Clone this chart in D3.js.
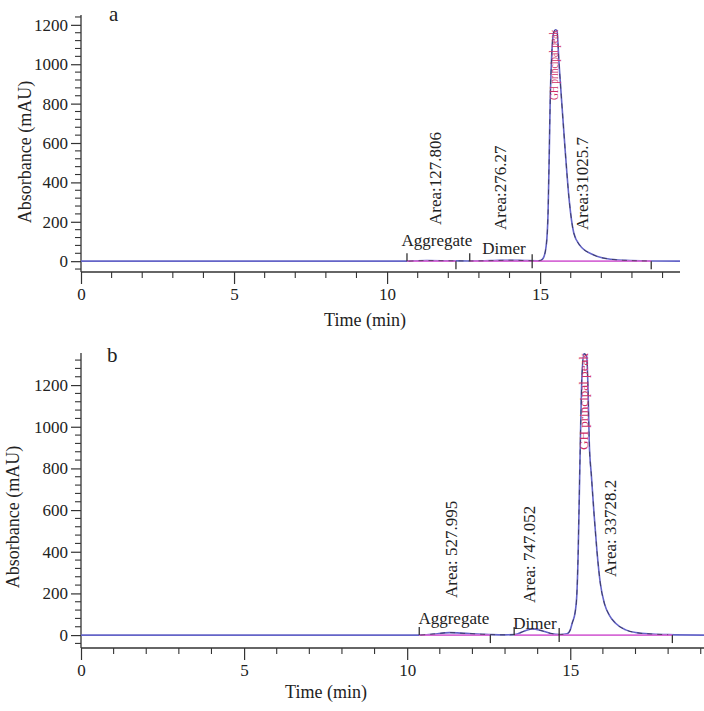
<!DOCTYPE html>
<html>
<head>
<meta charset="utf-8">
<script src="https://cdn.jsdelivr.net/npm/d3@7/dist/d3.min.js"></script>
<style>
  html, body { margin: 0; padding: 0; background: #fff; }
  svg { display: block; }
  text { font-family: "Liberation Serif", "Times New Roman", serif; fill: #222; }
</style>
</head>
<body>
<svg id="chart" width="704" height="711"></svg>
<script>
// ---------- Data ----------
// Panel a chromatogram: time (min) and absorbance (mAU)
const timeA = [0, 5, 10, 10.7, 11.3, 12.0, 12.7, 13.5, 14.0, 14.5, 14.9, 15.0, 15.1, 15.2, 15.26, 15.3, 15.33, 15.38, 15.44, 15.5, 15.55, 15.62, 15.7, 15.82, 15.95, 16.1, 16.3, 16.7, 17.2, 17.8, 18.5, 19.57];
const absA  = [0, 0, 0, 0,    3,    2,    1,    3,    5,    3,    2,    3,    15,   80,   250,   560,  820,   1050,  1160,  1175, 1170,  1000,  820,  560,   310,   143,  80,   35,   12,   4,    1,    0];
// Panel b chromatogram
const timeB = [0, 5, 10, 10.4, 10.8, 11.3, 11.8, 12.3, 12.6, 13.0, 13.3, 13.6, 13.85, 14.1, 14.4, 14.7, 14.9, 15.0, 15.06, 15.15, 15.2, 15.24, 15.27, 15.31, 15.36, 15.42, 15.5, 15.55, 15.58, 15.65, 15.73, 15.82, 15.92, 16.05, 16.2, 16.38, 16.7, 17.0, 17.5, 18.0, 19.1];
const absB  = [0, 0, 0, 0,    5,    12,   8,    4,    2,    1,    2,    20,   30,    22,   8,    3,    6,    25,   58,    110,   190,  380,   614,   935,   1250,  1350,  1340, 1150,  935,   760,   580,   400,   250,   150,   95,   58,    25,   12,   5,    2,    0];

// Integration segments [start, end] (min)
const segmentsA = [[10.65, 12.25], [12.7, 14.74], [14.74, 18.63]];
const segmentsB = [[10.37, 12.55], [13.28, 14.66], [14.66, 18.13]];
// Segment boundary marks: time and placement
const marksA = [[10.65, "up"], [12.25, "down"], [12.7, "up"], [14.74, "cross"], [18.63, "down"]];
const marksB = [[10.37, "up"], [12.55, "down"], [13.28, "up"], [14.66, "cross"], [18.13, "down"]];

// Peak labels: text, time, absorbance of anchor
const peakNamesA = [["Aggregate", 11.63, 77], ["Dimer", 13.82, 37]];
const peakNamesB = [["Aggregate", 11.43, 53], ["Dimer", 13.92, 29]];
const areaLabelsA = [["Area:127.806", 11.57, 184], ["Area:276.27", 13.69, 158], ["Area:31025.7", 16.37, 158]];
const areaLabelsB = [["Area: 527.995", 11.37, 178], ["Area: 747.052", 13.76, 154], ["Area: 33728.2", 16.22, 279]];
const mainPeakA = ["GH principal peak", 15.46, 819];
const mainPeakB = ["GH principal peak", 15.42, 888];

// Axis ticks
const yMajorTicks = [0, 200, 400, 600, 800, 1000, 1200];
const xMajorTicks = [0, 5, 10, 15];

// ---------- Drawing ----------
const svg = d3.select("#chart");
const SERIF = "'Liberation Serif', 'Times New Roman', serif";

function panel(cfg) {
  const x = d3.scaleLinear().domain(cfg.xDomain).range(cfg.xRange);
  const y = d3.scaleLinear().domain(cfg.yDomain).range(cfg.yRange);
  const g = svg.append("g").attr("font-family", SERIF);
  const y0 = cfg.yRange[0];
  const x0 = cfg.xRange[0];

  const yMinor = d3.range(-40, cfg.yDomain[1] + 1, 40).filter(v => !yMajorTicks.includes(v));
  const xMinor = d3.range(0, Math.floor(cfg.xDomain[1]) + 1, 1).filter(v => !xMajorTicks.includes(v));

  // Y axis
  const yAxis = d3.axisLeft(y).tickValues(yMajorTicks).tickSize(10).tickPadding(3).tickFormat(d3.format("d"));
  const ya = g.append("g").attr("transform", `translate(${x0},0)`).call(yAxis)
    .attr("font-family", SERIF).attr("font-size", 17);
  ya.select(".domain").remove();
  ya.append("line").attr("x1", 0).attr("x2", 0).attr("y1", cfg.yRange[1]).attr("y2", y0).attr("stroke", "#333").attr("stroke-width", 1.3);
  ya.selectAll(".tick line").attr("stroke", "#333").attr("stroke-width", 1.2);
  ya.selectAll(".tick text").attr("fill", "#222").style("font-family", SERIF);
  ya.selectAll(".minor").data(yMinor).enter().append("line")
    .attr("x1", -6).attr("x2", 0).attr("y1", d => y(d)).attr("y2", d => y(d))
    .attr("stroke", "#333").attr("stroke-width", 1.1);

  // X axis
  const xAxis = d3.axisBottom(x).tickValues(xMajorTicks).tickSize(12).tickPadding(4).tickFormat(d3.format("d"));
  const xa = g.append("g").attr("transform", `translate(0,${y0})`).call(xAxis)
    .attr("font-family", SERIF).attr("font-size", 17);
  xa.select(".domain").remove();
  xa.append("line").attr("x1", x0).attr("x2", cfg.xRange[1]).attr("y1", 0).attr("y2", 0).attr("stroke", "#333").attr("stroke-width", 1.3);
  xa.selectAll(".tick line").attr("stroke", "#333").attr("stroke-width", 1.2);
  xa.selectAll(".tick text").attr("fill", "#222").style("font-family", SERIF);
  xa.selectAll(".minor").data(xMinor).enter().append("line")
    .attr("x1", d => x(d)).attr("x2", d => x(d)).attr("y1", 0).attr("y2", 6)
    .attr("stroke", "#333").attr("stroke-width", 1.1);

  // chromatogram
  const pts = cfg.time.map((t, i) => [t, cfg.abs[i]]);
  const line = d3.line().x(d => x(d[0])).y(d => y(d[1])).curve(d3.curveMonotoneX);
  g.append("path").datum(pts).attr("d", line)
    .attr("fill", "none").attr("stroke", "#6464c8").attr("stroke-width", 1.6);

  // integration baselines (magenta)
  g.selectAll(".seg").data(cfg.segments).enter().append("line")
    .attr("x1", d => x(d[0])).attr("x2", d => x(d[1]))
    .attr("y1", y(0)).attr("y2", y(0))
    .attr("stroke", "#d66ad6").attr("stroke-width", 1.8);

  // dark dashed overlay over integrated region
  const ov = pts.filter(d => d[0] >= cfg.segments[0][0] && d[0] <= cfg.segments[2][1]);
  g.append("path").datum(ov).attr("d", line)
    .attr("fill", "none").attr("stroke", "#222").attr("stroke-opacity", 0.6)
    .attr("stroke-width", 1).attr("stroke-dasharray", "5,5");

  // segment boundary marks
  g.selectAll(".mark").data(cfg.marks).enter().append("line")
    .attr("x1", d => x(d[0])).attr("x2", d => x(d[0]))
    .attr("y1", d => d[1] === "up" ? y(0) - 8 : d[1] === "down" ? y(0) : y(0) - 7)
    .attr("y2", d => d[1] === "up" ? y(0) : d[1] === "down" ? y(0) + 8 : y(0) + 7)
    .attr("stroke", "#333").attr("stroke-width", 1.3);

  // peak names
  g.selectAll(".pname").data(cfg.names).enter().append("text")
    .attr("x", d => x(d[1])).attr("y", d => y(d[2]))
    .attr("text-anchor", "middle").style("font-size", "17px").text(d => d[0]);

  // area labels (rotated)
  g.selectAll(".area").data(cfg.areas).enter().append("text")
    .attr("transform", d => `translate(${x(d[1])},${y(d[2])}) rotate(-90)`)
    .attr("dominant-baseline", "central")
    .style("font-size", "17px").text(d => d[0]);

  // main peak label (red, compressed)
  g.append("text")
    .attr("transform", `translate(${x(cfg.main[1])},${y(cfg.main[2])}) rotate(-90)`)
    .attr("dominant-baseline", "central")
    .attr("textLength", cfg.mainLen).attr("lengthAdjust", "spacingAndGlyphs")
    .style("font-size", "12px").style("fill", "#d0306a").text(cfg.main[0]);

  // titles
  g.append("text").attr("x", cfg.xTitle[0]).attr("y", cfg.xTitle[1])
    .attr("text-anchor", "middle").style("font-size", "18px").text("Time (min)");
  g.append("text").attr("transform", `translate(${cfg.yTitle[0]},${cfg.yTitle[1]}) rotate(-90)`)
    .attr("text-anchor", "middle").attr("dominant-baseline", "central")
    .style("font-size", "18px").text("Absorbance (mAU)");
  g.append("text").attr("x", cfg.letter[0]).attr("y", cfg.letter[1])
    .style("font-size", "21px").text(cfg.letter[2]);
}

panel({
  xDomain: [0, 19.57], xRange: [81, 680],
  yDomain: [-55, 1250], yRange: [272, 15],
  time: timeA, abs: absA, segments: segmentsA, marks: marksA,
  names: peakNamesA, areas: areaLabelsA, main: mainPeakA, mainLen: 70,
  xTitle: [365, 326], yTitle: [25, 152], letter: [109, 21, "a"]
});
panel({
  xDomain: [0, 19.1], xRange: [81, 704],
  yDomain: [-62, 1354], yRange: [648, 353],
  time: timeB, abs: absB, segments: segmentsB, marks: marksB,
  names: peakNamesB, areas: areaLabelsB, main: mainPeakB, mainLen: 97,
  xTitle: [326, 698], yTitle: [13, 517], letter: [107, 362, "b"]
});
</script>
</body>
</html>
